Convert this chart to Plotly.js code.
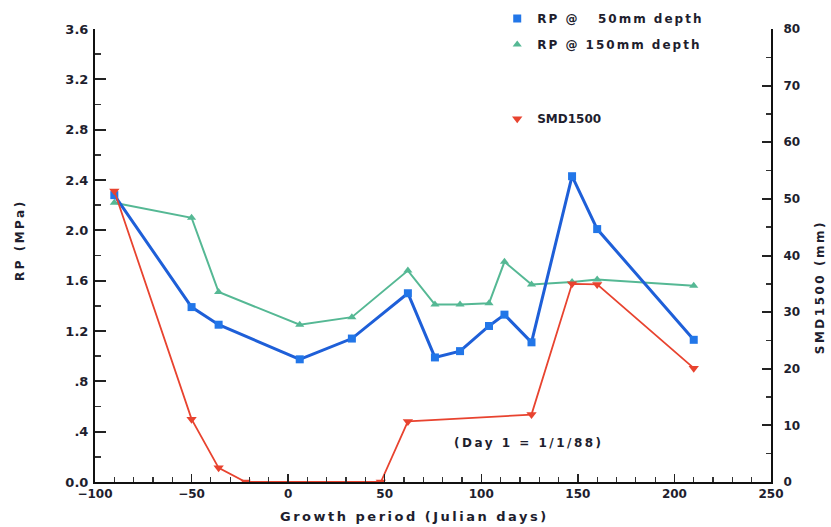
<!DOCTYPE html>
<html>
<head>
<meta charset="utf-8">
<script src="https://cdn.plot.ly/plotly-3.0.1.min.js"></script>
<style>
html,body{margin:0;padding:0;background:#fff;}
#chart{width:831px;height:527px;}
.legendtext{letter-spacing:2px;}
.annotation-text{letter-spacing:2.5px;}
</style>
</head>
<body>
<div id="chart"></div>
<script>
// ---- data ----
const rpDays = [-90, -50, -36, 6, 33, 62, 76, 89, 104, 112, 126, 147, 160, 210];
const rp50 = [2.28, 1.39, 1.25, 0.975, 1.14, 1.50, 0.99, 1.04, 1.24, 1.33, 1.11, 2.43, 2.01, 1.13];
const rp150 = [2.22, 2.10, 1.51, 1.25, 1.31, 1.68, 1.41, 1.41, 1.42, 1.75, 1.57, 1.59, 1.61, 1.56];
const smdDays = [-90, -50, -36, -22, 48, 62, 126, 147, 160, 210];
const smd1500 = [51.4, 11.1, 2.5, 0, 0, 10.7, 11.9, 35.0, 34.9, 20.1];

const xTicks = [-100, -50, 0, 50, 100, 150, 200, 250];
const yTicks = [0, 0.4, 0.8, 1.2, 1.6, 2.0, 2.4, 2.8, 3.2, 3.6];
const yTickText = ['0.0', '.4', '.8', '1.2', '1.6', '2.0', '2.4', '2.8', '3.2', '3.6'];
const y2Ticks = [0, 10, 20, 30, 40, 50, 60, 70, 80];

const names = ['RP @\u00a0\u00a0 50mm depth', 'RP @ 150mm depth', 'SMD1500'];
const xTitle = 'Growth period (Julian days)';
const yTitle = 'RP (MPa)';
const y2Title = 'SMD1500 (mm)';
const note = '(Day 1 = 1/1/88)';

// ---- styles ----
const blueLine = '#1e5fd8', blueMark = '#2276e8';
const green = '#55b894';
const red = '#e8432f';
const ink = '#1e1e2e';
const F = 'DejaVu Sans';

const traces = [
  {x: rpDays, y: rp150, mode: 'lines+markers', xaxis: 'x', yaxis: 'y', showlegend: false,
   line: {color: green, width: 2}, marker: {symbol: 'triangle-up', size: 8, color: green}},
  {x: rpDays, y: rp50, mode: 'lines+markers', xaxis: 'x', yaxis: 'y', showlegend: false,
   line: {color: blueLine, width: 3}, marker: {symbol: 'square', size: 8, color: blueMark}},
  {x: smdDays, y: smd1500, mode: 'lines+markers', xaxis: 'x', yaxis: 'y2', showlegend: false,
   line: {color: red, width: 1.8}, marker: {symbol: 'triangle-down', size: 9, color: red}},
  // legend entries (markers only)
  {x: [null], y: [null], mode: 'markers', name: names[0], legend: 'legend', legendgroup: 'a',
   marker: {symbol: 'square', size: 8, color: blueMark}},
  {x: [null], y: [null], mode: 'markers', name: names[1], legend: 'legend', legendgroup: 'b',
   marker: {symbol: 'triangle-up', size: 8, color: green}},
  {x: [null], y: [null], mode: 'markers', name: names[2], legend: 'legend2', yaxis: 'y2',
   marker: {symbol: 'triangle-down', size: 9, color: red}}
];

const tickFontX = {family: F, size: 12, color: ink, weight: 'bold'};
const tickFontY = {family: F, size: 13, color: ink, weight: 'bold'};
const titleFont = {family: F, size: 12, color: ink, weight: 'bold'};

const layout = {
  width: 831, height: 527,
  margin: {l: 95, r: 60, t: 29, b: 45, autoexpand: false},
  paper_bgcolor: '#fff', plot_bgcolor: '#fff',
  showlegend: true,
  xaxis: {
    range: [-100, 250], showgrid: false, zeroline: false, automargin: false,
    showline: true, linecolor: '#111', linewidth: 2,
    tickvals: xTicks, ticks: 'inside', ticklen: 8, tickwidth: 1.5, tickcolor: '#222',
    minor: {ticks: 'inside', dtick: 10, tick0: 0, ticklen: 5, tickwidth: 1.2, tickcolor: '#333', showgrid: false},
    tickfont: tickFontX, ticklabelstandoff: 0
  },
  xaxis3: {
    overlaying: 'x', anchor: 'y', range: [-100, 250], showgrid: false, zeroline: false,
    showline: false, showticklabels: false,
    tickvals: xTicks, ticks: 'outside', ticklen: 4, tickwidth: 1.5, tickcolor: '#222',
    minor: {ticks: 'outside', dtick: 10, tick0: 0, ticklen: 3, tickwidth: 1.2, tickcolor: '#333'}
  },
  yaxis: {
    range: [0, 3.6], showgrid: false, zeroline: false, automargin: false,
    showline: true, linecolor: '#111', linewidth: 2,
    tickvals: yTicks, ticktext: yTickText, ticks: 'inside', ticklen: 11, tickwidth: 2, tickcolor: '#222',
    minor: {ticks: 'inside', dtick: 0.2, tick0: 0, ticklen: 6, tickwidth: 1.5, tickcolor: '#333', showgrid: false},
    tickfont: tickFontY, ticklabelstandoff: 2
  },
  yaxis3: {
    overlaying: 'y', anchor: 'x', side: 'left', range: [0, 3.6], showgrid: false, zeroline: false,
    showline: false, showticklabels: false,
    tickvals: yTicks, ticks: 'outside', ticklen: 4, tickwidth: 2, tickcolor: '#222',
    minor: {ticks: 'outside', dtick: 0.2, tick0: 0, ticklen: 3, tickwidth: 1.5, tickcolor: '#333'}
  },
  yaxis2: {
    overlaying: 'y', side: 'right', anchor: 'x', range: [0, 80], showgrid: false, zeroline: false, automargin: false,
    showline: true, linecolor: '#111', linewidth: 2,
    tickvals: y2Ticks, ticks: 'inside', ticklen: 9, tickwidth: 2, tickcolor: '#222',
    minor: {ticks: 'inside', dtick: 5, tick0: 0, ticklen: 5, tickwidth: 1.5, tickcolor: '#333', showgrid: false},
    tickfont: tickFontX, ticklabelstandoff: 8
  },
  legend: {
    x: 0.595, y: 1.055, xanchor: 'left', yanchor: 'top', bgcolor: 'rgba(0,0,0,0)',
    font: {family: F, size: 12, color: ink, weight: 'bold'},
    traceorder: 'grouped', tracegroupgap: 7, itemwidth: 30
  },
  legend2: {
    x: 0.595, y: 0.834, xanchor: 'left', yanchor: 'top', bgcolor: 'rgba(0,0,0,0)',
    font: {family: F, size: 12, color: ink, weight: 'bold'}, itemwidth: 30
  },
  annotations: [
    {xref: 'paper', yref: 'paper', x: 0.642, y: 0.086, xanchor: 'center', yanchor: 'middle',
     text: note, showarrow: false, font: {family: F, size: 12, color: ink, weight: 'bold'}},
    {xref: 'paper', yref: 'paper', x: 0.472, y: -0.077, xanchor: 'center', yanchor: 'middle',
     text: xTitle, showarrow: false, font: {family: F, size: 13, color: ink, weight: 'bold'}},
    {xref: 'paper', yref: 'paper', x: -0.111, y: 0.534, xanchor: 'center', yanchor: 'middle',
     text: yTitle, textangle: -90, showarrow: false, font: titleFont},
    {xref: 'paper', yref: 'paper', x: 1.0725, y: 0.43, xanchor: 'center', yanchor: 'middle',
     text: y2Title, textangle: -90, showarrow: false, font: titleFont}
  ]
};

Plotly.newPlot('chart', traces, layout, {displayModeBar: false, staticPlot: true});
</script>
</body>
</html>
